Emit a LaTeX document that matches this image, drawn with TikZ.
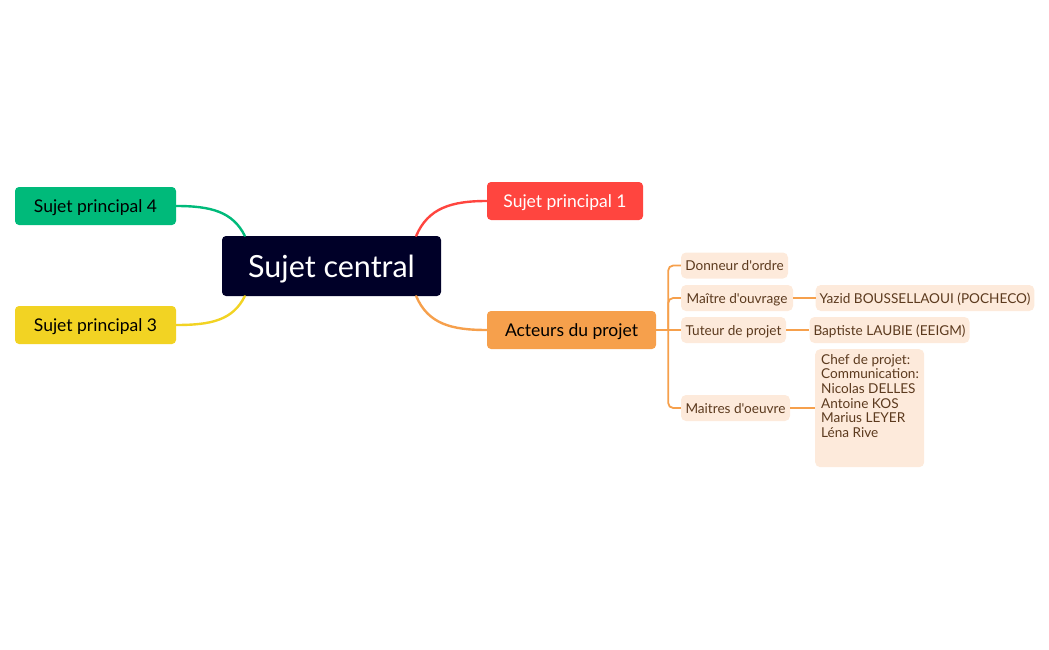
\documentclass[tikz,border=0pt]{standalone}
\usepackage{fontspec}
\setmainfont{Lato}[Ligatures=TeXOff]
\usetikzlibrary{positioning}
\definecolor{navy}{HTML}{000028}
\definecolor{rouge}{HTML}{FF453F}
\definecolor{vert}{HTML}{00BA7A}
\definecolor{jaune}{HTML}{F2D323}
\definecolor{orange}{HTML}{F6A04C}
\definecolor{peche}{HTML}{FDEADB}
\definecolor{brun}{HTML}{5C3A1E}
\begin{document}
\begin{tikzpicture}[x=1pt,y=-1pt,
  sujet/.style={rounded corners=4pt,minimum width=161pt,minimum height=38pt,inner sep=0pt,text depth=0pt,font=\fontsize{17.5}{20}\selectfont},
  acteur/.style={fill=peche,text=brun,rounded corners=5pt,minimum height=26pt,inner sep=4pt,text depth=0pt,font=\fontsize{13.6}{14.6}\selectfont},
  lien/.style={line width=2.4pt,line cap=round},
  branche/.style={orange,line width=1.8pt,rounded corners=5pt}]
\useasboundingbox (0,0) rectangle (1049,650);
\node[fill=navy,text=white,rounded corners=4pt,minimum width=219pt,minimum height=60pt,text depth=0pt,font=\fontsize{30.5}{34}\selectfont] (central) at (331.5,266) {Sujet central};
\node[sujet,fill=rouge,text=white,minimum width=156pt] (sp1) at (565,201) {Sujet principal 1};
\node[sujet,fill=vert] (sp4) at (95.5,206) {Sujet principal 4};
\node[sujet,fill=jaune] (sp3) at (95.5,325) {Sujet principal 3};
\node[sujet,fill=orange,minimum width=169pt] (acteurs) at (571.5,330) {Acteurs du projet};
\draw[lien,rouge] ([xshift=-25pt]central.north east) .. controls ++(12,-28) and ++(-35,0) .. (sp1.west);
\draw[lien,vert] ([xshift=23pt]central.north west) .. controls ++(-12,-24) and ++(35,0) .. (sp4.east);
\draw[lien,jaune] ([xshift=23pt]central.south west) .. controls ++(-12,24) and ++(35,0) .. (sp3.east);
\draw[lien,orange] ([xshift=-25pt]central.south east) .. controls ++(12,28) and ++(-35,0) .. (acteurs.west);
\node[acteur,minimum width=107pt] (donneur) at (734.5,265.5) {Donneur d'ordre};
\node[acteur,minimum width=112pt] (mouvrage) at (737,298) {Maître d'ouvrage};
\node[acteur,minimum width=216pt] (yazid) at (925,298) {Yazid BOUSSELLAOUI (POCHECO)};
\node[acteur,minimum width=105pt] (tuteur) at (733.5,330) {Tuteur de projet};
\node[acteur,minimum width=157pt] (baptiste) at (889.5,330) {Baptiste LAUBIE (EEIGM)};
\node[acteur,minimum width=109pt] (moeuvre) at (735.5,408) {Maitres d'oeuvre};
\node[acteur,text depth=,anchor=north west,inner sep=0pt,align=left] (chef) at (815,349) {\parbox[t][118pt][t]{109pt}{\vspace{5pt}\leftskip=6pt Chef de projet:\\Communication:\\Nicolas DELLES\\Antoine KOS\\Marius LEYER\\Léna Rive}};
\draw[branche] (acteurs.east) -- ++(12,0) coordinate (fourche);
\draw[branche] (fourche) |- (donneur.west);
\draw[branche] (fourche) |- (mouvrage.west);
\draw[branche] (fourche) -- (tuteur.west);
\draw[branche] (fourche) |- (moeuvre.west);
\draw[branche] (mouvrage.east) -- (yazid.west);
\draw[branche] (tuteur.east) -- (baptiste.west);
\draw[branche] (moeuvre.east) -- (chef.west |- moeuvre.east);
\end{tikzpicture}
\end{document}
